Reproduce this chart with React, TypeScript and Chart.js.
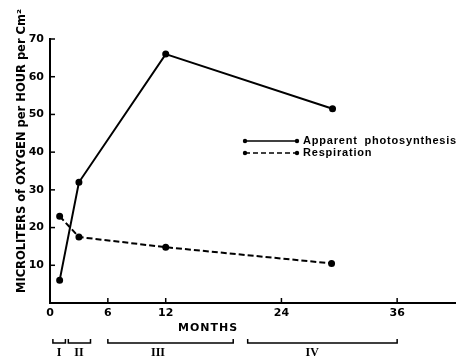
import React, { useEffect, useRef } from "react";
import { Chart, registerables } from "chart.js";

Chart.register(...registerables);

const monthsPhoto = [1, 3, 12, 29.3];
const photosynthesis = [6, 32, 66, 51.5];
const monthsResp = [1, 3, 12, 29.2];
const respiration = [23, 17.5, 14.8, 10.5];
const xTicks = [0, 6, 12, 24, 36];
const yTicks = [10, 20, 30, 40, 50, 60, 70];
const phaseLabels = ["I", "II", "III", "IV"];
const phaseStart = [0.3, 1.9, 6, 20.5];
const phaseEnd = [1.6, 4.2, 19, 36];
const phaseLabelAt = [0.95, 3.0, 11.2, 27.2];
const seriesNames = ["Apparent photosynthesis", "Respiration"];

const FONT = "'DejaVu Sans', 'Liberation Sans', sans-serif";
const LFONT = "'Liberation Sans', Arial, sans-serif";

const overlay = {
  id: "overlay",
  afterDraw(chart: any) {
    const ctx = chart.ctx;
    const xs = chart.scales.x;
    const ys = chart.scales.y;
    const area = chart.chartArea;
    ctx.save();
    ctx.strokeStyle = "#000";
    ctx.fillStyle = "#000";
    ctx.lineWidth = 1.5;
    // inward tick marks
    yTicks.forEach((v) => {
      const y = ys.getPixelForValue(v);
      ctx.beginPath();
      ctx.moveTo(area.left, y);
      ctx.lineTo(area.left + 5, y);
      ctx.stroke();
    });
    xTicks.slice(1).forEach((v) => {
      const x = xs.getPixelForValue(v);
      ctx.beginPath();
      ctx.moveTo(x, area.bottom);
      ctx.lineTo(x, area.bottom - 5);
      ctx.stroke();
    });
    // y title
    ctx.save();
    ctx.translate(22, 151);
    ctx.rotate(-Math.PI / 2);
    ctx.font = "bold 11.5px " + FONT;
    ctx.textAlign = "center";
    ctx.textBaseline = "middle";
    ctx.fillText("MICROLITERS of OXYGEN per HOUR per Cm²", 0, 0);
    ctx.restore();
    // x title
    ctx.font = "bold 11px " + FONT;
    ctx.textAlign = "center";
    ctx.textBaseline = "middle";
    (ctx as any).letterSpacing = "1px";
    ctx.fillText("MONTHS", 208, 328);
    (ctx as any).letterSpacing = "0px";
    // phase brackets
    const by = 343;
    ctx.lineWidth = 1.5;
    phaseLabels.forEach((lab, i) => {
      const x1 = xs.getPixelForValue(phaseStart[i]);
      const x2 = xs.getPixelForValue(phaseEnd[i]);
      ctx.beginPath();
      ctx.moveTo(x1, by - 4);
      ctx.lineTo(x1, by);
      ctx.lineTo(x2, by);
      ctx.lineTo(x2, by - 4);
      ctx.stroke();
      ctx.font = "bold 12px 'Liberation Serif', serif";
      ctx.fillText(lab, xs.getPixelForValue(phaseLabelAt[i]), 353);
    });
    // legend
    const lx1 = 245, lx2 = 297;
    const lys = [141, 153];
    lys.forEach((ly, i) => {
      ctx.lineWidth = 1.5;
      ctx.setLineDash(i === 0 ? [] : [5, 3]);
      ctx.beginPath();
      ctx.moveTo(lx1, ly);
      ctx.lineTo(lx2, ly);
      ctx.stroke();
      ctx.setLineDash([]);
      [lx1, lx2].forEach((px) => {
        ctx.beginPath();
        ctx.arc(px, ly, 2.2, 0, Math.PI * 2);
        ctx.fill();
      });
      ctx.font = "bold 11px " + LFONT;
      ctx.textAlign = "left";
      ctx.textBaseline = "middle";
      (ctx as any).letterSpacing = "0.8px";
      (ctx as any).wordSpacing = "3px";
      ctx.fillText(seriesNames[i], 303, ly);
      (ctx as any).letterSpacing = "0px";
      (ctx as any).wordSpacing = "0px";
    });
    ctx.restore();
  },
};

export default function App() {
  const ref = useRef<HTMLCanvasElement>(null);
  useEffect(() => {
    if (!ref.current) return;
    const chart = new Chart(ref.current, {
      type: "line",
      data: {
        datasets: [
          {
            label: seriesNames[0],
            data: monthsPhoto.map((m, i) => ({ x: m, y: photosynthesis[i] })),
            borderColor: "#000",
            backgroundColor: "#000",
            borderWidth: 2,
            pointRadius: 2.5,
            pointBackgroundColor: "#000",
            tension: 0,
          },
          {
            label: seriesNames[1],
            data: monthsResp.map((m, i) => ({ x: m, y: respiration[i] })),
            borderColor: "#000",
            backgroundColor: "#000",
            borderWidth: 2,
            borderDash: [6, 3],
            pointRadius: 2.5,
            pointBackgroundColor: "#000",
            tension: 0,
          },
        ],
      },
      options: {
        animation: false,
        responsive: false,
        layout: { autoPadding: false, padding: { left: 0, top: 39, right: 1, bottom: 35 } },
        plugins: { legend: { display: false }, tooltip: { enabled: false } },
        scales: {
          x: {
            type: "linear",
            min: 0,
            max: 42,
            grid: { display: false, drawTicks: false },
            border: { display: true, color: "#000", width: 2 },
            afterBuildTicks: (s: any) => {
              s.ticks = xTicks.map((v) => ({ value: v }));
            },
            afterFit: (s: any) => {
              s.height = 20;
              s.paddingLeft = 0;
              s.paddingRight = 0;
            },
            ticks: {
              color: "#000",
              padding: 4,
              maxRotation: 0,
              font: { family: FONT, size: 11, weight: "bold" },
            },
          },
          y: {
            min: 0,
            max: 70,
            grid: { display: false, drawTicks: false },
            border: { display: true, color: "#000", width: 2 },
            afterBuildTicks: (s: any) => {
              s.ticks = yTicks.map((v) => ({ value: v }));
            },
            afterFit: (s: any) => {
              s.width = 50;
              s.paddingTop = 0;
              s.paddingBottom = 0;
            },
            ticks: {
              color: "#000",
              padding: 6,
              font: { family: FONT, size: 11, weight: "bold" },
            },
          },
        },
      },
      plugins: [overlay],
    } as any);
    return () => chart.destroy();
  }, []);
  return (
    <div style={{ position: "absolute", left: 0, top: 0, width: 456, height: 358, background: "#fff" }}>
      <canvas ref={ref} width={456} height={358} />
    </div>
  );
}
